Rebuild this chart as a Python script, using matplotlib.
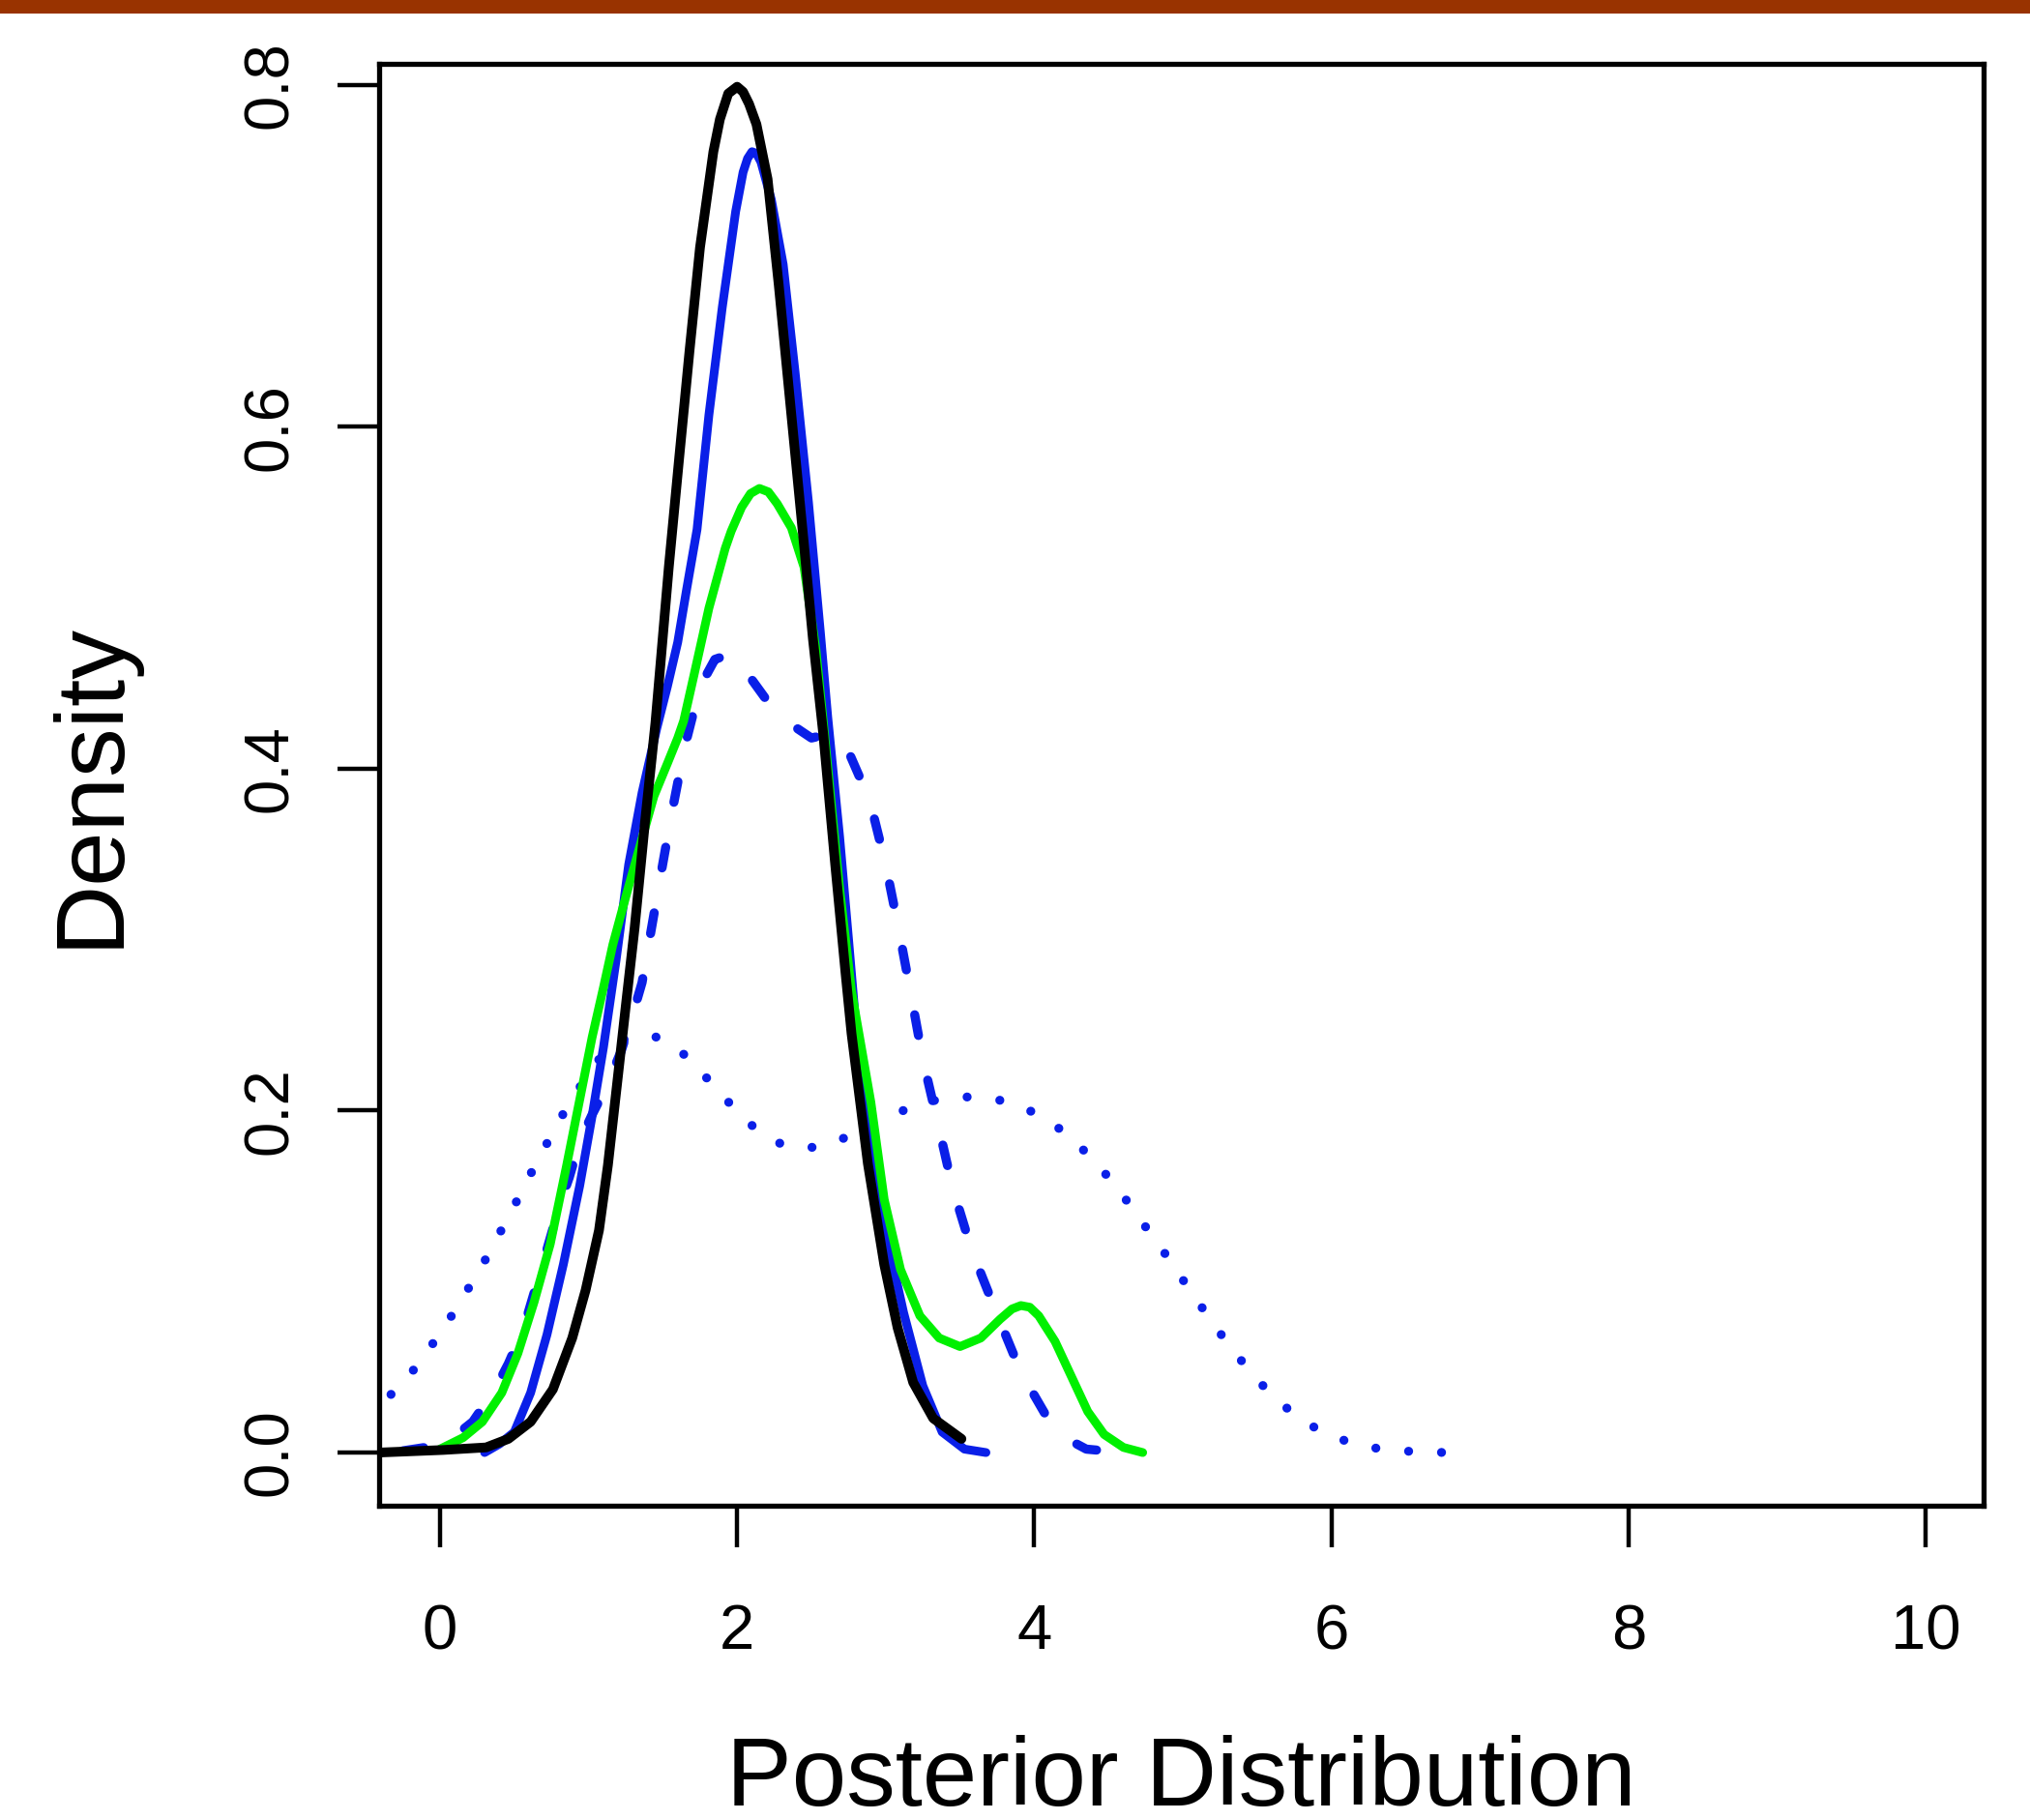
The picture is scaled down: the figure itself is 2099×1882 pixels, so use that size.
import matplotlib
matplotlib.use("Agg")
import matplotlib.pyplot as plt
from matplotlib.patches import Rectangle

plt.rcParams["font.family"] = ["Liberation Sans", "DejaVu Sans"]

# ---- curves (x, density) ---------------------------------------------------
black_x = [-0.41, 0.02, 0.31, 0.46, 0.61, 0.76, 0.89, 0.98, 1.07, 1.13, 1.20,
           1.25, 1.31, 1.38, 1.45, 1.54, 1.61, 1.68, 1.75, 1.84, 1.884, 1.94,
           2.00, 2.04, 2.08, 2.13, 2.205, 2.28, 2.365, 2.45, 2.51, 2.58, 2.66,
           2.73, 2.77, 2.88, 2.99, 3.08, 3.185, 3.32, 3.51]
black_y = [0.0, 0.0015, 0.003, 0.008, 0.018, 0.037, 0.067, 0.095, 0.13, 0.168,
           0.222, 0.261, 0.307, 0.369, 0.427, 0.518, 0.582, 0.645, 0.705, 0.761,
           0.780, 0.795, 0.799, 0.796, 0.789, 0.777, 0.745, 0.683, 0.607, 0.531,
           0.476, 0.42, 0.344, 0.28, 0.245, 0.169, 0.11, 0.073, 0.041, 0.02,
           0.008]

blue_x = [0.30, 0.40, 0.50, 0.61, 0.72, 0.83, 0.94, 1.02, 1.10, 1.185, 1.27,
          1.36, 1.46, 1.53, 1.60, 1.66, 1.73, 1.81, 1.90, 1.99, 2.04, 2.07,
          2.10, 2.13, 2.16, 2.23, 2.31, 2.39, 2.48, 2.56, 2.61, 2.69, 2.75,
          2.81, 2.90, 3.01, 3.12, 3.25, 3.38, 3.53, 3.675]
blue_y = [0.0, 0.005, 0.012, 0.035, 0.069, 0.11, 0.156, 0.195, 0.237, 0.288,
          0.344, 0.386, 0.424, 0.448, 0.474, 0.505, 0.54, 0.607, 0.67, 0.726,
          0.749, 0.757, 0.761, 0.760, 0.755, 0.733, 0.695, 0.632, 0.556, 0.48,
          0.43, 0.36, 0.30, 0.239, 0.175, 0.125, 0.082, 0.039, 0.012, 0.002,
          0.0]

green_x = [0.0, 0.155, 0.285, 0.416, 0.524, 0.633, 0.742, 0.85, 0.937, 1.024,
           1.10, 1.163, 1.25, 1.33, 1.44, 1.53, 1.60, 1.64, 1.71, 1.81, 1.92,
           1.96, 2.03, 2.09, 2.15, 2.21, 2.27, 2.365, 2.45, 2.53, 2.60, 2.69,
           2.77, 2.84, 2.90, 2.99, 3.10, 3.23, 3.36, 3.50, 3.64, 3.77, 3.85,
           3.91, 3.97, 4.03, 4.14, 4.25, 4.36, 4.47, 4.60, 4.73]
green_y = [0.002, 0.0087, 0.018, 0.035, 0.058, 0.088, 0.122, 0.167, 0.205,
           0.243, 0.272, 0.297, 0.325, 0.350, 0.384, 0.403, 0.418, 0.428, 0.455,
           0.494, 0.529, 0.539, 0.553, 0.561, 0.564, 0.562, 0.555, 0.541, 0.518,
           0.47, 0.41, 0.33, 0.27, 0.235, 0.205, 0.148, 0.107, 0.08, 0.067,
           0.062, 0.067, 0.078, 0.084, 0.086, 0.085, 0.08, 0.065, 0.0445, 0.024,
           0.0106, 0.003, 0.0]

dash_x = [-0.25, -0.10, 0.09, 0.22, 0.37, 0.46, 0.56, 0.70, 0.81, 0.87, 0.94,
          1.02, 1.12, 1.22, 1.30, 1.36, 1.41, 1.48, 1.56, 1.645, 1.75, 1.85,
          1.95, 2.05, 2.20, 2.38, 2.50, 2.60, 2.68, 2.76, 2.86, 2.92, 3.00,
          3.09, 3.17, 3.25, 3.35, 3.45, 3.58, 3.74, 3.91, 4.09, 4.21, 4.35, 4.60]
dash_y = [0.001, 0.003, 0.009, 0.018, 0.037, 0.052, 0.072, 0.113, 0.146, 0.161,
          0.182, 0.197, 0.214, 0.235, 0.257, 0.275, 0.30, 0.335, 0.374, 0.412,
          0.448, 0.464, 0.467, 0.458, 0.44, 0.425, 0.418, 0.42, 0.418, 0.408,
          0.388, 0.372, 0.344, 0.305, 0.268, 0.23, 0.193, 0.155, 0.118, 0.083,
          0.047, 0.02, 0.0085, 0.002, 0.0]

dot_x = [-0.33, -0.307, -0.161, -0.03, 0.093, 0.209, 0.32, 0.424, 0.528, 0.628,
         0.733, 0.841, 0.95, 1.05, 1.15, 1.274, 1.38, 1.483, 1.663, 1.813,
         1.963, 2.122, 2.311, 2.529, 2.742, 2.948, 3.142, 3.355, 3.577, 3.794,
         4.003, 4.188, 4.353, 4.501, 4.636, 4.766, 4.894, 5.018, 5.145, 5.273,
         5.41, 5.556, 5.719, 5.903, 6.106, 6.324, 6.543, 6.768]
dot_y = [0.034, 0.036, 0.050, 0.066, 0.082, 0.0986, 0.115, 0.132, 0.149, 0.166,
         0.183, 0.200, 0.215, 0.228, 0.238, 0.243, 0.2445, 0.2425, 0.2316,
         0.2174, 0.203, 0.1895, 0.1797, 0.1784, 0.1846, 0.1935, 0.201, 0.2067,
         0.2082, 0.2058, 0.1988, 0.1884, 0.1752, 0.1609, 0.1458, 0.13, 0.1147,
         0.0988, 0.0828, 0.0672, 0.052, 0.0375, 0.0245, 0.0137, 0.0064, 0.0021,
         0.0006, 0.0]

x_ticks = [0, 2, 4, 6, 8, 10]
y_ticks = [0.0, 0.2, 0.4, 0.6, 0.8]
y_tick_labels = ["0.0", "0.2", "0.4", "0.6", "0.8"]

BLUE = "#0a1fe8"
GREEN = "#00f000"
BAND = "#993300"

W, H = 2099, 1882
fig = plt.figure(figsize=(W / 100, H / 100), dpi=100)
fig.patch.set_facecolor("white")
fig.patches.append(Rectangle((0, 1 - 14 / H), 1, 14 / H, transform=fig.transFigure,
                             fc=BAND, ec="none"))

ax = fig.add_axes([392 / W, 1 - 1557 / H, (2051 - 392) / W, (1557 - 66) / H])

ax.plot(dot_x, dot_y, color=BLUE, lw=6.7, linestyle=(0, (0.01, 3.65)),
        dash_capstyle="round")
ax.plot(dash_x, dash_y, color=BLUE, lw=6.8, linestyle=(0, (2.3, 5.0)),
        dash_capstyle="round")
ax.plot(blue_x, blue_y, color=BLUE, lw=6.5, solid_capstyle="round",
        solid_joinstyle="round")
ax.plot(green_x, green_y, color=GREEN, lw=6.5, solid_capstyle="round",
        solid_joinstyle="round")
ax.plot(black_x, black_y, color="black", lw=7.2, solid_capstyle="round",
        solid_joinstyle="round")

ax.set_xlim(-0.41, 10.39)
ax.set_ylim(-0.0311, 0.8124)
ax.set_xticks(x_ticks)
ax.set_yticks(y_ticks)
ax.set_yticklabels(y_tick_labels, rotation=90, va="center")

for s in ax.spines.values():
    s.set_linewidth(3.8)
    s.set_color("black")
ax.tick_params(direction="out", length=31, width=3.2, labelsize=47, color="black")
ax.tick_params(axis="x", pad=42)
ax.tick_params(axis="y", pad=28)

ax.set_xlabel("Posterior Distribution", fontsize=73)
ax.set_ylabel("Density", fontsize=73)
ax.xaxis.set_label_coords(0.5, -0.159)
ax.yaxis.set_label_coords(-0.151, 0.5)

fig.savefig("out.png", dpi=100, facecolor="white")
